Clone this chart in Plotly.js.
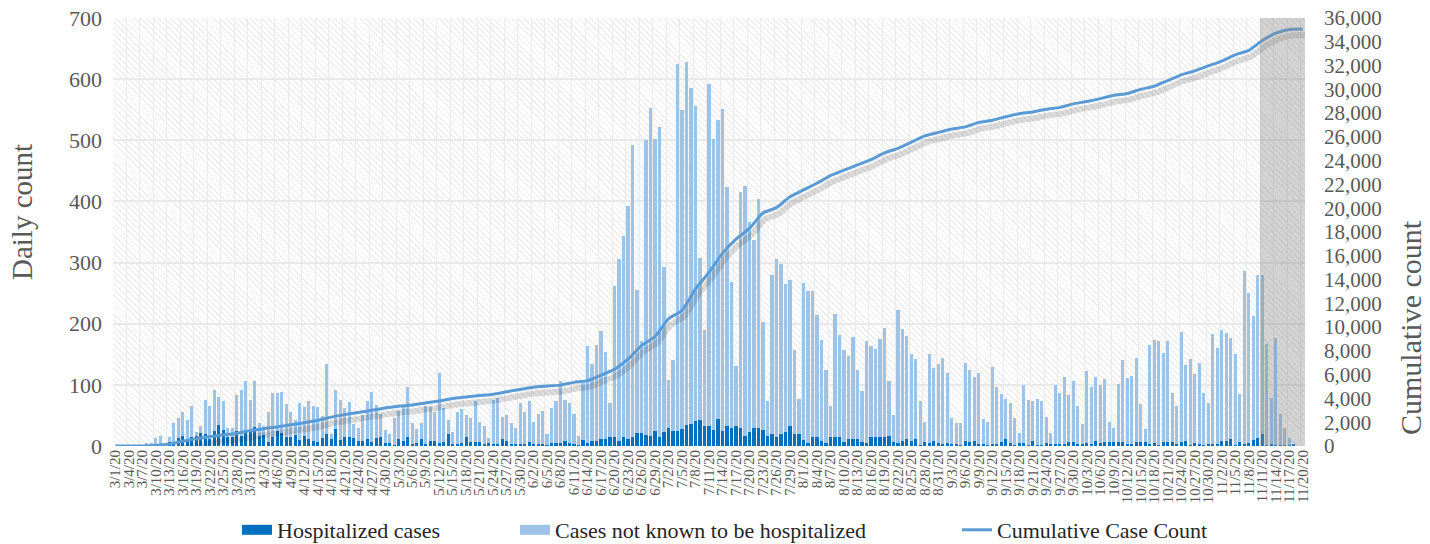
<!DOCTYPE html>
<html><head><meta charset="utf-8">
<script src="https://cdn.plot.ly/plotly-3.0.1.min.js"></script>
<style>
html,body{margin:0;padding:0;background:#fff;}
#wrap{position:relative;width:1430px;height:544px;overflow:hidden;}
#hatch{position:absolute;left:113px;top:18px;width:1192px;height:428px;
background:repeating-linear-gradient(45deg,#ffffff 0px,#ffffff 3px,#eeeeee 3px,#eeeeee 4.3px);}
#chart{position:absolute;left:0;top:0;width:1430px;height:544px;}
</style></head>
<body><div id="wrap"><div id="hatch"></div><div id="chart"></div></div>
<script>
// ---- categories: one per day, 3/1/20 .. 11/20/20 ----
const startDate = new Date(2020, 2, 1);
const dayCount = 265;
const categories = [];
for (let i = 0; i < dayCount; i++) {
  const d = new Date(startDate.getFullYear(), startDate.getMonth(), startDate.getDate() + i);
  categories.push((d.getMonth() + 1) + '/' + d.getDate() + '/20');
}
const dayIdx = categories.map((c, i) => i);
const tickIdx = dayIdx.filter(i => i % 3 === 0);
const tickLabels = tickIdx.map(i => categories[i]);

// ---- daily hospitalized cases (dark blue) ----
const hospitalized = [
0,0,0,0,0,0,0,0,0,4,
2,1,7,7,13,16,12,15,16,21,
20,11,25,35,26,15,15,25,17,26,
24,31,16,18,7,15,25,22,14,15,
18,10,16,11,8,6,13,19,11,28,
10,15,15,13,8,9,11,7,13,14,
5,5,2,11,9,14,3,5,11,4,
8,8,5,7,19,4,4,5,14,6,
6,7,3,5,4,3,11,8,3,3,
3,3,7,3,3,3,1,5,5,5,
8,5,3,1,10,5,8,9,11,11,
14,14,8,14,11,14,22,21,18,16,
25,15,23,30,25,25,28,34,36,41,
43,32,32,26,44,25,33,30,32,30,
16,23,30,30,26,16,20,15,20,23,
32,20,20,10,5,14,15,8,5,14,
14,15,7,11,11,11,7,5,14,14,
14,15,16,7,5,9,11,9,11,1,
6,5,9,5,4,5,3,3,2,8,
6,8,4,4,2,4,3,7,11,5,
1,5,5,1,9,1,1,5,3,3,
3,4,7,7,4,4,5,4,9,5,
6,6,7,7,7,4,4,6,6,7,
4,5,1,6,6,6,4,6,8,1,
5,4,2,4,4,4,8,8,12,1,
7,4,5,10,13,19,2,4,2,1,
1,1,4,0,0
];

// ---- daily cases not known to be hospitalized (light blue) ----
const notHospitalized = [
0,0,0,0,0,0,1,5,5,9,
14,2,7,30,32,39,30,50,7,12,
56,54,66,45,48,15,15,59,74,81,
51,76,21,15,49,71,61,66,54,41,
24,61,47,63,57,58,36,115,9,63,
66,47,57,23,21,41,63,81,54,39,
21,15,43,47,58,82,34,23,27,61,
55,47,115,55,24,19,52,55,37,40,
68,32,29,8,72,76,36,43,34,27,
68,53,67,37,49,55,18,57,69,102,
68,66,49,15,93,159,126,157,177,143,
56,248,298,329,381,478,233,151,482,536,
477,507,270,78,116,600,522,594,549,515,
264,158,560,476,490,526,390,239,99,385,
410,344,307,374,177,57,259,291,278,242,
240,137,57,256,249,240,200,165,119,52,
202,166,150,137,168,113,83,166,150,145,
161,178,91,44,218,182,169,142,131,73,
34,146,118,129,140,115,42,34,35,127,
118,105,115,40,38,125,94,78,66,66,
44,17,94,74,65,76,73,42,18,96,
84,109,76,100,61,32,118,93,104,94,
104,34,22,94,134,108,110,138,62,21,
161,168,170,146,166,81,62,181,124,141,
113,131,85,66,179,156,181,177,164,150,
78,283,245,202,266,260,165,75,174,51,
28,12,0,0,0
];

// ---- cumulative case count, read every 3rd day (at tick dates) ----
const cumulative = [
0,0,0,50,170,400,600,780,950,1060,
1280,1460,1600,1780,1950,2160,2430,2640,2820,3000,
3200,3340,3450,3620,3790,4000,4120,4240,4360,4560,
4760,4950,5040,5120,5350,5496,5950,6450,7300,8450,
9200,10700,11400,13200,14600,16200,17400,18300,19600,20049,
20960,21540,22100,22750,23200,23640,24080,24650,25030,25560,
26080,26380,26660,26840,27220,27400,27700,27950,28100,28330,
28480,28780,28980,29220,29500,29650,30000,30260,30740,31220,
31550,31970,32380,32900,33280,34100,34720,35040,35080
];

const seriesNames = ['Hospitalized cases', 'Cases not known to be hospitalized', 'Cumulative Case Count'];
const seriesColors = ['#0070C0', '#9DC3E6', '#5B9BD5'];

const shadedFrom = categories.indexOf('11/11/20');
const lastIdx = categories.length - 1;

const FONT = '"Liberation Serif", "DejaVu Serif", serif';
const GREY = '#595959';

const traces = [
  {type:'bar', x:dayIdx, y:hospitalized, name:seriesNames[0],
   marker:{color:seriesColors[0]}, showlegend:false, hoverinfo:'x+y'},
  {type:'bar', x:dayIdx, y:notHospitalized, name:seriesNames[1],
   marker:{color:seriesColors[1]}, showlegend:false, hoverinfo:'x+y'},
  {type:'scatter', mode:'lines', x:tickIdx, y:cumulative, xaxis:'x2', yaxis:'y3',
   line:{color:'rgba(50,50,50,0.17)', width:6, shape:'spline', smoothing:0.6},
   showlegend:false, hoverinfo:'skip'},
  {type:'scatter', mode:'lines', x:tickIdx, y:cumulative, yaxis:'y2',
   name:seriesNames[2], legend:'legend3',
   line:{color:seriesColors[2], width:3, shape:'spline', smoothing:0.6}},
  // legend-only keys drawn as wide swatches like the original
  {type:'scatter', mode:'lines', x:[null], y:[null], name:seriesNames[0], legend:'legend',
   line:{color:seriesColors[0], width:12}, hoverinfo:'skip'},
  {type:'scatter', mode:'lines', x:[null], y:[null], name:seriesNames[1], legend:'legend2',
   line:{color:seriesColors[1], width:12}, hoverinfo:'skip'}
];

const legendBase = {orientation:'h', yanchor:'middle', xanchor:'left',
  yref:'container', y:(544-530)/544, xref:'paper',
  bgcolor:'rgba(0,0,0,0)', font:{family:FONT, size:22, color:'#262626'}};

const layout = {
  width:1430, height:544,
  margin:{l:113, r:125, t:18, b:98, autoexpand:false},
  paper_bgcolor:'rgba(0,0,0,0)', plot_bgcolor:'rgba(0,0,0,0)',
  barmode:'stack', bargap:0.3,
  font:{family:FONT, color:GREY},
  xaxis:{range:[-0.5, lastIdx + 0.5], tickmode:'array', tickvals:tickIdx, ticktext:tickLabels,
    automargin:false,
    tickangle:-90, tickfont:{family:FONT, size:15, color:GREY}, showgrid:false, zeroline:false,
    showline:false, ticks:'',
    minor:{tickmode:'linear', tick0:-0.5, dtick:3, showgrid:true, gridcolor:'#ebebeb', gridwidth:1, ticks:''}},
  xaxis2:{overlaying:'x', range:[-0.5 - 0.45, lastIdx + 0.5 - 0.45], visible:false},
  yaxis:{range:[0,700], dtick:100, tickfont:{family:FONT, size:22, color:GREY}, automargin:false,
    gridcolor:'#e9e9e9', gridwidth:2, zeroline:false, ticks:'', ticklabelstandoff:10},
  yaxis2:{overlaying:'y', side:'right', range:[0,36000], dtick:2000, tickformat:',', automargin:false,
    tickfont:{family:FONT, size:21, color:GREY}, showgrid:false, zeroline:false, ticks:'',
    ticklabelstandoff:18},
  yaxis3:{overlaying:'y', range:[520, 36520], visible:false},
  legend:Object.assign({}, legendBase, {x:(237-113)/1192}),
  legend2:Object.assign({}, legendBase, {x:(515-113)/1192}),
  legend3:Object.assign({}, legendBase, {x:(957-113)/1192}),
  annotations:[
    {text:'Daily count', xref:'paper', yref:'paper', x:(22-113)/1192, y:(446-212)/428,
     textangle:-90, xanchor:'center', yanchor:'middle', showarrow:false,
     font:{family:FONT, size:29, color:GREY}},
    {text:'Cumulative count', xref:'paper', yref:'paper', x:(1410-113)/1192, y:(446-328)/428,
     textangle:-90, xanchor:'center', yanchor:'middle', showarrow:false,
     font:{family:FONT, size:30, color:GREY}}
  ],
  shapes:[{type:'rect', xref:'x', yref:'paper', x0:shadedFrom - 0.5, x1:lastIdx + 0.5, y0:0, y1:1,
    fillcolor:'rgba(140,140,140,0.38)', line:{width:0}, layer:'above'}]
};

Plotly.newPlot('chart', traces, layout, {displayModeBar:false, responsive:false});
</script></body></html>
